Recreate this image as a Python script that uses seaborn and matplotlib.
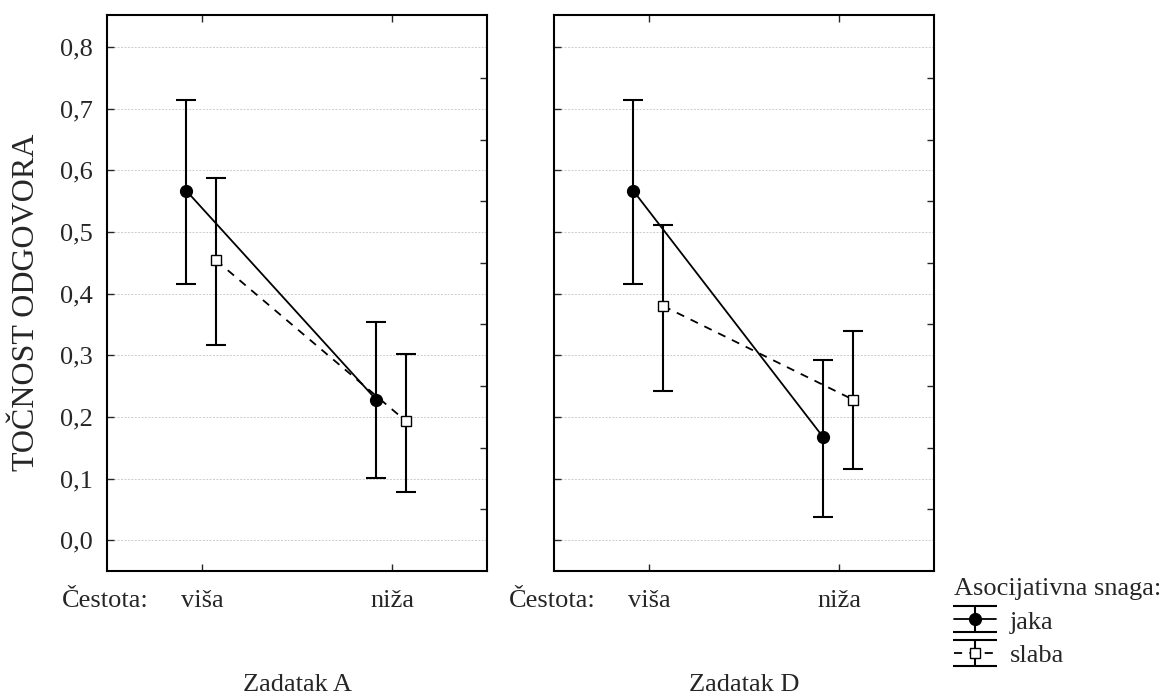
import numpy as np
import pandas as pd
import matplotlib
matplotlib.use("Agg")
import matplotlib.pyplot as plt
import matplotlib.lines as mlines
import seaborn as sns
from matplotlib.ticker import FixedLocator, FuncFormatter
from matplotlib.container import ErrorbarContainer

# values
zadaci = ["Zadatak A", "Zadatak D"]
cestota = ["viša", "niža"]
snaga = ["jaka", "slaba"]

# mean, lower and upper limit per (zadatak, snaga) over cestota
mean_A_jaka = [0.567, 0.228]
low_A_jaka = [0.415, 0.101]
up_A_jaka = [0.714, 0.354]
mean_A_slaba = [0.454, 0.193]
low_A_slaba = [0.317, 0.078]
up_A_slaba = [0.588, 0.302]

mean_D_jaka = [0.567, 0.167]
low_D_jaka = [0.415, 0.037]
up_D_jaka = [0.714, 0.292]
mean_D_slaba = [0.380, 0.228]
low_D_slaba = [0.242, 0.115]
up_D_slaba = [0.512, 0.340]

rows = []
for z, s, m, lo, up in [
    ("Zadatak A", "jaka", mean_A_jaka, low_A_jaka, up_A_jaka),
    ("Zadatak A", "slaba", mean_A_slaba, low_A_slaba, up_A_slaba),
    ("Zadatak D", "jaka", mean_D_jaka, low_D_jaka, up_D_jaka),
    ("Zadatak D", "slaba", mean_D_slaba, low_D_slaba, up_D_slaba),
]:
    for i, c in enumerate(cestota):
        rows.append({"zadatak": z, "snaga": s, "cestota": c, "idx": i,
                     "mean": m[i], "low": lo[i], "up": up[i]})
df = pd.DataFrame(rows)

sns.set_style("ticks")
plt.rcParams["font.family"] = ["Liberation Serif", "DejaVu Serif"]
FS = 19

W, H = 1166, 697
fig = plt.figure(figsize=(W / 100, H / 100), dpi=100)

offsets = {"jaka": -0.083, "slaba": 0.074}
styles = {
    "jaka": dict(marker="o", markerfacecolor="black", markersize=8.5, linestyle="-"),
    "slaba": dict(marker="s", markerfacecolor="white", markersize=7.5, linestyle=(0, (4.5, 4))),
}

ax_left = [107, 554]
ax_w = 380
ax_top, ax_bot = 15, 571
handles = {}

for k, z in enumerate(zadaci):
    ax = fig.add_axes([ax_left[k] / W, 1 - ax_bot / H, ax_w / W, (ax_bot - ax_top) / H])
    sub = df[df["zadatak"] == z]
    for s in snaga:
        d = sub[sub["snaga"] == s].copy()
        d["x"] = d["idx"] + offsets[s]
        eb = ax.errorbar(d["x"], d["mean"],
                         yerr=[d["mean"] - d["low"], d["up"] - d["mean"]],
                         fmt="none", ecolor="black", elinewidth=1.5,
                         capsize=7, capthick=1.5, zorder=2)
        sns.lineplot(data=d, x="x", y="mean", ax=ax, color="black", lw=1.3,
                     markeredgecolor="black", markeredgewidth=1.0,
                     zorder=3, legend=False, **styles[s])
        line = ax.lines[-1]
        # wide caps for the legend glyph
        cap = mlines.Line2D([], [], color="black", marker="_", markersize=31,
                            markeredgewidth=1.5, linestyle="none")
        handles[s] = ErrorbarContainer((line, (cap, cap), eb[2]), has_xerr=False, has_yerr=True)

    ax.set_xlim(-0.5, 1.5)
    ax.set_ylim(-0.05, 0.852)
    ax.set_xticks([0, 1])
    ax.set_xticklabels(cestota)
    ax.yaxis.set_major_locator(FixedLocator(np.arange(0, 0.81, 0.1)))
    ax.yaxis.set_minor_locator(FixedLocator(np.arange(0.05, 0.8, 0.1)))
    ax.yaxis.set_major_formatter(FuncFormatter(lambda v, p: f"{v:.1f}".replace(".", ",")))
    ax.grid(axis="y", which="major", color="#cccccc", lw=0.7, linestyle=(0, (2, 1.5)))
    ax.set_axisbelow(True)
    ax.set_xlabel("")
    ax.set_ylabel("")
    ax.tick_params(axis="x", which="major", direction="in", top=True, bottom=True,
                   length=5, width=1, labelsize=FS, pad=14)
    ax.tick_params(axis="y", which="major", direction="in", left=True, right=False,
                   length=5, width=1, labelsize=FS, pad=10)
    ax.tick_params(axis="y", which="minor", direction="in", left=False, right=True,
                   length=5, width=1)
    if k == 1:
        ax.tick_params(axis="y", which="major", labelleft=False)
    for sp in ax.spines.values():
        sp.set_color("black")
        sp.set_linewidth(1.5)

    fig.text((ax_left[k] - 45) / W, 1 - 601 / H, "Čestota:", fontsize=FS, ha="left", va="center")
    fig.text((ax_left[k] + ax_w / 2) / W, 1 - 685 / H, z, fontsize=FS, ha="center", va="center")

fig.text(27 / W, 1 - 302 / H, "TOČNOST ODGOVORA", fontsize=23, rotation=90,
         ha="center", va="center")

fig.legend([handles["jaka"], handles["slaba"]], snaga, loc="upper left",
           bbox_to_anchor=(954 / W, 1 - 578 / H), title="Asocijativna snaga:",
           frameon=False, fontsize=FS, title_fontsize=FS, alignment="left",
           handlelength=1.6, handletextpad=0.5, borderpad=0, borderaxespad=0,
           labelspacing=0.38)

fig.savefig("out.png", dpi=100)
